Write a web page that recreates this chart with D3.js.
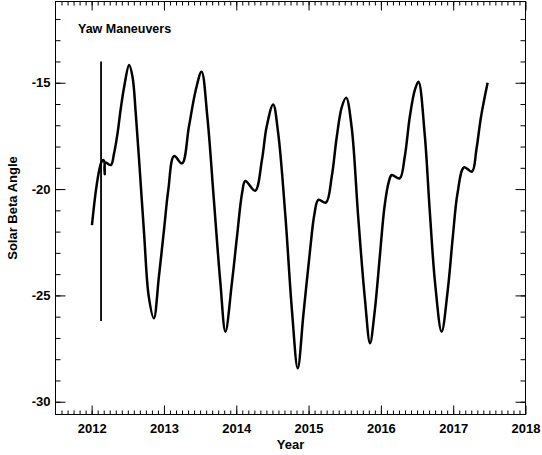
<!DOCTYPE html>
<html>
<head>
<meta charset="utf-8">
<script src="https://cdn.jsdelivr.net/npm/d3@7"></script>
<style>
    body { margin: 0; background: #fff; }
    svg { display: block; font-family: 'Liberation Sans', Arial, sans-serif; }
</style>
</head>
<body>
<svg width="542" height="455"></svg>
<script>
// solar beta angle
const years = [
    2012.004, 2012.06, 2012.105, 2012.14, 2012.16, 2012.175, 2012.181, 2012.187,
    2012.266, 2012.31, 2012.358, 2012.40, 2012.45, 2012.518, 2012.565, 2012.61,
    2012.656, 2012.725, 2012.79, 2012.86, 2012.93, 2013.00, 2013.06, 2013.14,
    2013.25, 2013.345, 2013.44, 2013.52, 2013.60, 2013.69, 2013.78, 2013.85,
    2013.94, 2014.01, 2014.08, 2014.125, 2014.26, 2014.355, 2014.42, 2014.51,
    2014.58, 2014.68, 2014.77, 2014.85, 2014.93, 2015.02, 2015.08, 2015.135,
    2015.24, 2015.32, 2015.39, 2015.46, 2015.52, 2015.595, 2015.686, 2015.78,
    2015.85, 2015.916, 2015.985, 2016.05, 2016.11, 2016.15, 2016.26, 2016.33,
    2016.40, 2016.47, 2016.52, 2016.605, 2016.675, 2016.75, 2016.84, 2016.925,
    2016.995, 2017.06, 2017.15, 2017.26, 2017.32, 2017.385, 2017.476
];
const beta = [
    -21.69, -20.04, -19.1, -18.7, -18.63, -18.7, -19.3, -18.75,
    -18.87, -18.32, -17.38, -16.28, -15.19, -14.17, -14.72, -16.44,
    -18.63, -22.08, -25.06, -26.08, -24.12, -21.93, -20.04, -18.45,
    -18.79, -17.07, -15.34, -14.48, -16.6, -20.5, -24.4, -26.71,
    -24.4, -22.24, -20.2, -19.62, -20.08, -18.63, -17.07, -16.02,
    -17.38, -21.3, -25.7, -28.43, -25.84, -22.9, -21.2, -20.51,
    -20.64, -19.42, -17.54, -16.13, -15.70, -17.07, -21.3, -25.2,
    -27.25, -25.7, -23.18, -20.83, -19.65, -19.34, -19.5, -18.48,
    -16.6, -15.34, -14.95, -17.38, -20.98, -24.43, -26.71, -24.75,
    -22.24, -20.2, -18.98, -19.18, -18.16, -16.6, -15.0
];

// yaw maneuver marker
const yawYear = 2012.13;
const yawRange = [-26.2, -14.0];

const xDomain = [2011.5, 2018];
const yDomain = [-30.6, -11.18];
const xTickLabels = [2012, 2013, 2014, 2015, 2016, 2017, 2018];
const yTickLabels = [-30, -25, -20, -15];

(function () {
    const svg = d3.select('svg');
    const left = 55.5, right = 525.5, top = 1.5, bottom = 414.5;

    const x = d3.scaleLinear().domain(xDomain).range([left, right]);
    const y = d3.scaleLinear().domain(yDomain).range([bottom, top]);

    // monthly minor ticks on x, unit minor ticks on y
    const xMinor = d3.range(0, 79).map(i => 2011.5 + i / 12)
            .filter(v => v > xDomain[0] && v < xDomain[1]);
    const yMinor = d3.range(-30, -11).filter(v => v > yDomain[0] && v < yDomain[1]);

    const addAxis = (axis, pos) => {
        const g = svg.append('g')
                .attr('transform', pos)
                .call(axis);
        g.select('.domain').remove();
        g.selectAll('line').attr('stroke', '#000').attr('stroke-width', 1);
        return g;
    };

    // minor ticks
    addAxis(d3.axisBottom(x).tickValues(xMinor).tickSize(-4).tickFormat(''), `translate(0,${bottom})`);
    addAxis(d3.axisTop(x).tickValues(xMinor).tickSize(-4).tickFormat(''), `translate(0,${top})`);
    addAxis(d3.axisLeft(y).tickValues(yMinor).tickSize(-5).tickFormat(''), `translate(${left},0)`);
    addAxis(d3.axisRight(y).tickValues(yMinor).tickSize(-5).tickFormat(''), `translate(${right},0)`);

    // major ticks with labels
    addAxis(d3.axisBottom(x).tickValues(xTickLabels).tickSize(-9).tickPadding(9)
            .tickFormat(d3.format('d')), `translate(0,${bottom})`);
    addAxis(d3.axisTop(x).tickValues(xTickLabels).tickSize(-9).tickFormat(''), `translate(0,${top})`);
    addAxis(d3.axisLeft(y).tickValues(yTickLabels).tickSize(-10).tickPadding(5)
            .tickFormat(d => d3.format('d')(d).replace('−', '-')), `translate(${left},0)`);
    addAxis(d3.axisRight(y).tickValues(yTickLabels).tickSize(-10).tickFormat(''), `translate(${right},0)`);

    svg.selectAll('.tick text')
            .attr('font-family', "'Liberation Sans', Arial, sans-serif")
            .attr('font-size', 13)
            .attr('font-weight', 'bold')
            .attr('fill', '#000');

    // frame
    svg.append('rect')
            .attr('x', left)
            .attr('y', top)
            .attr('width', right - left)
            .attr('height', bottom - top)
            .attr('fill', 'none')
            .attr('stroke', '#000')
            .attr('stroke-width', 1);

    const points = years.map((t, i) => [t, beta[i]]);
    const line = d3.line()
            .x(d => x(d[0]))
            .y(d => y(d[1]))
            .curve(d3.curveCatmullRom.alpha(0.5));

    svg.append('path')
            .datum(points)
            .attr('d', line)
            .attr('fill', 'none')
            .attr('stroke', '#000')
            .attr('stroke-width', 2.5)
            .attr('stroke-linejoin', 'round');

    svg.append('line')
            .attr('x1', x(yawYear))
            .attr('x2', x(yawYear))
            .attr('y1', y(yawRange[0]))
            .attr('y2', y(yawRange[1]))
            .attr('stroke', '#000')
            .attr('stroke-width', 1.8);

    svg.append('text')
            .attr('x', 78)
            .attr('y', 33)
            .attr('font-size', 12.5)
            .attr('font-weight', 'bold')
            .text('Yaw Maneuvers');

    svg.append('text')
            .attr('x', (left + right) / 2)
            .attr('y', 449)
            .attr('text-anchor', 'middle')
            .attr('font-size', 13)
            .attr('font-weight', 'bold')
            .text('Year');

    svg.append('text')
            .attr('transform', `translate(17,${(top + bottom) / 2}) rotate(-90)`)
            .attr('text-anchor', 'middle')
            .attr('font-size', 13)
            .attr('font-weight', 'bold')
            .text('Solar Beta Angle');
})();
</script>
</body>
</html>
